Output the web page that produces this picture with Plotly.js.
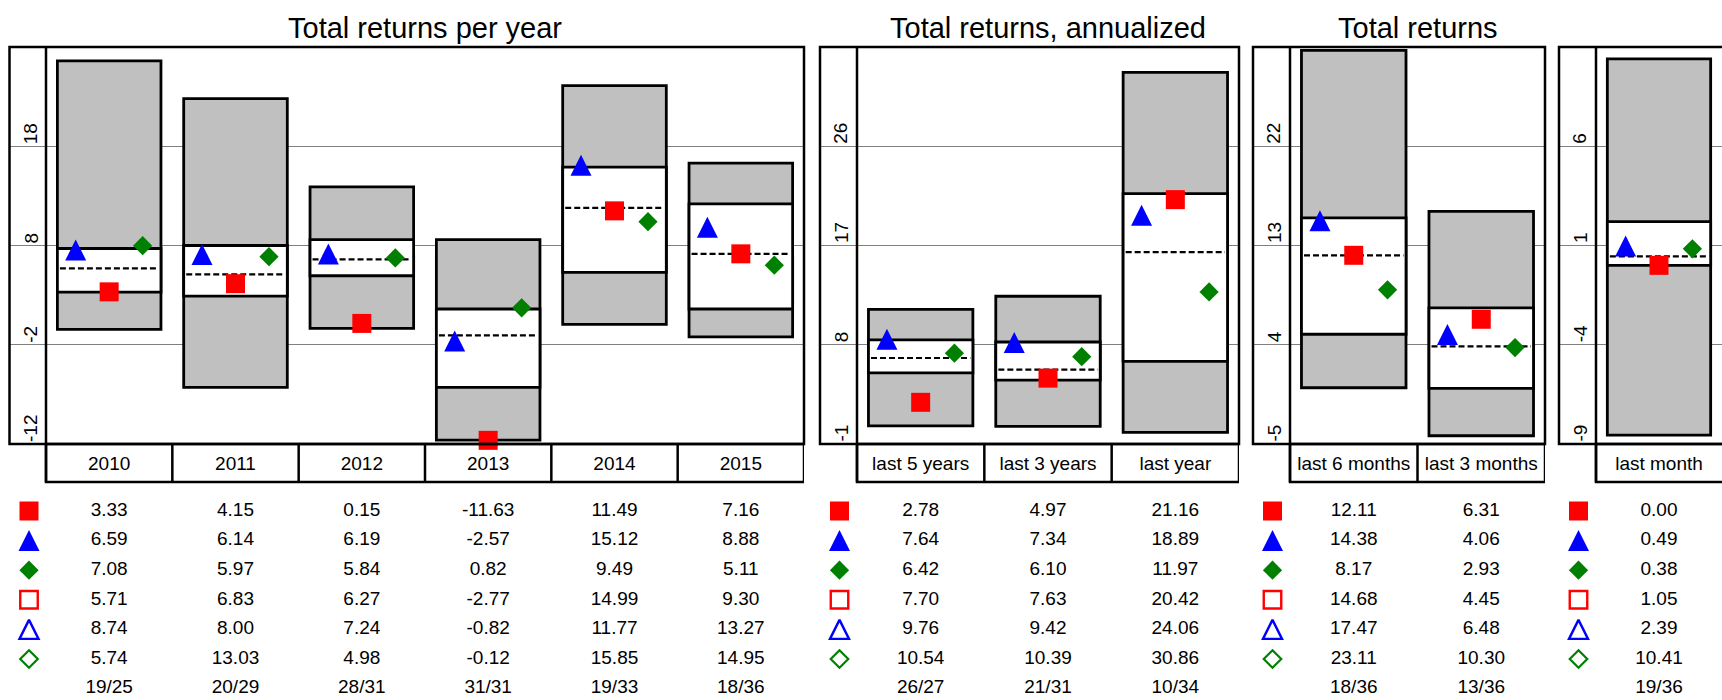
<!DOCTYPE html>
<html><head><meta charset="utf-8">
<script src="https://cdn.plot.ly/plotly-3.0.1.min.js"></script>
<style>html,body{margin:0;padding:0;background:#fff;} #chart{width:1722px;height:700px;}</style>
</head><body><div id="chart"></div>
<script>
// ---------------- DATA ----------------
const yearCats = ["2010","2011","2012","2013","2014","2015"];
const annCats  = ["last 5 years","last 3 years","last year"];
const totCats  = ["last 6 months","last 3 months"];
const monCats  = ["last month"];

// table rows (fund, blue, green, hollow square, hollow triangle, hollow diamond, rank)
const yearFund    = [3.33, 4.15, 0.15, -11.63, 11.49, 7.16];
const yearTri     = [6.59, 6.14, 6.19, -2.57, 15.12, 8.88];
const yearDia     = [7.08, 5.97, 5.84, 0.82, 9.49, 5.11];
const yearSqOpen  = [5.71, 6.83, 6.27, -2.77, 14.99, 9.30];
const yearTriOpen = [8.74, 8.00, 7.24, -0.82, 11.77, 13.27];
const yearDiaOpen = [5.74, 13.03, 4.98, -0.12, 15.85, 14.95];
const yearRank    = ["19/25","20/29","28/31","31/31","19/33","18/36"];

const annFund    = [2.78, 4.97, 21.16];
const annTri     = [7.64, 7.34, 18.89];
const annDia     = [6.42, 6.10, 11.97];
const annSqOpen  = [7.70, 7.63, 20.42];
const annTriOpen = [9.76, 9.42, 24.06];
const annDiaOpen = [10.54, 10.39, 30.86];
const annRank    = ["26/27","21/31","10/34"];

const totFund    = [12.11, 6.31];
const totTri     = [14.38, 4.06];
const totDia     = [8.17, 2.93];
const totSqOpen  = [14.68, 4.45];
const totTriOpen = [17.47, 6.48];
const totDiaOpen = [23.11, 10.30];
const totRank    = ["18/36","13/36"];

const monFund    = [0.00];
const monTri     = [0.49];
const monDia     = [0.38];
const monSqOpen  = [1.05];
const monTriOpen = [2.39];
const monDiaOpen = [10.41];
const monRank    = ["19/36"];

// peer-group boxes: outer range (gray), inner quartile band (white), median (dashed)
const yearHigh = [26.6, 22.8, 13.9, 8.6, 24.1, 16.3];
const yearQ3   = [7.7, 8.0, 8.6, 1.6, 15.9, 12.2];
const yearMed  = [5.7, 5.1, 6.6, -1.05, 11.8, 7.15];
const yearQ1   = [3.3, 2.9, 4.95, -6.3, 5.3, 1.6];
const yearLow  = [-0.45, -6.3, -0.35, -11.6, 0.05, -1.2];

const annHigh = [11.2, 12.4, 32.7];
const annQ3   = [8.45, 8.25, 21.7];
const annMed  = [6.8, 5.75, 16.4];
const annQ1   = [5.45, 4.8, 6.5];
const annLow  = [0.65, 0.6, 0.05];

const totHigh = [30.7, 16.1];
const totQ3   = [15.5, 7.35];
const totMed  = [12.1, 3.85];
const totQ1   = [4.95, 0.05];
const totLow  = [0.1, -4.25];

const monHigh = [10.4];
const monQ3   = [2.2];
const monMed  = [0.45];
const monQ1   = [0.0];
const monLow  = [-8.55];

// axis ranges and tick labels
const yearRange = [-12, 28]; const yearTicks = [-12, -2, 8, 18];
const annRange  = [-1, 35];  const annTicks  = [-1, 8, 17, 26];
const totRange  = [-5, 31];  const totTicks  = [-5, 4, 13, 22];
const monRange  = [-9, 11];  const monTicks  = [-9, -4, 1, 6];

const titles = ["Total returns per year", "Total returns, annualized", "Total returns", ""];

// ---------------- LAYOUT CONSTANTS ----------------
const W = 1722, H = 700;
const FONT = 'Liberation Sans, Arial, sans-serif';
const PLOT_TOP = 47, PLOT_BOT = 444, ROW_BOT = 482;
const ROW0 = 511, ROWSTEP = 29.6;
const BOXW = 0.82, MOFF = 0.265;
const FRAME_W = 2.5, BOX_LINE = 2.8;
const geo = [
  {fl: 9.5,  ax: 46,   r: 804},
  {fl: 820,  ax: 857,  r: 1239},
  {fl: 1253, ax: 1290, r: 1545},
  {fl: 1559, ax: 1596, r: 1722}
];

const panels = [
  {cats: yearCats, fund: yearFund, tri: yearTri, dia: yearDia, sqo: yearSqOpen, trio: yearTriOpen, diao: yearDiaOpen, rank: yearRank,
   high: yearHigh, q3: yearQ3, med: yearMed, q1: yearQ1, low: yearLow, range: yearRange, ticks: yearTicks},
  {cats: annCats, fund: annFund, tri: annTri, dia: annDia, sqo: annSqOpen, trio: annTriOpen, diao: annDiaOpen, rank: annRank,
   high: annHigh, q3: annQ3, med: annMed, q1: annQ1, low: annLow, range: annRange, ticks: annTicks},
  {cats: totCats, fund: totFund, tri: totTri, dia: totDia, sqo: totSqOpen, trio: totTriOpen, diao: totDiaOpen, rank: totRank,
   high: totHigh, q3: totQ3, med: totMed, q1: totQ1, low: totLow, range: totRange, ticks: totTicks},
  {cats: monCats, fund: monFund, tri: monTri, dia: monDia, sqo: monSqOpen, trio: monTriOpen, diao: monDiaOpen, rank: monRank,
   high: monHigh, q3: monQ3, med: monMed, q1: monQ1, low: monLow, range: monRange, ticks: monTicks}
];

const RED = '#ff0000', BLUE = '#0000ff', GREEN = '#008000';
const py = p => (H - p) / H;
const yd = [py(PLOT_BOT), py(PLOT_TOP)];
const td = [0, py(ROW_BOT)];
const tRange = [(H - ROW0) / ROWSTEP, (ROW_BOT - ROW0) / ROWSTEP];

const traces = [], shapes = [], annotations = [];
const layout = {
  width: W, height: H, margin: {l: 0, r: 0, t: 0, b: 0},
  paper_bgcolor: '#ffffff', plot_bgcolor: 'rgba(0,0,0,0)',
  showlegend: false, hovermode: false, barmode: 'overlay',
  font: {family: FONT, color: '#000', size: 19}
};

panels.forEach((p, k) => {
  const g = geo[k];
  const n = p.cats.length;
  const cw = (g.r - g.ax) / n;
  const xmin = -0.5 - (g.ax - g.fl) / cw;
  const xn = k === 0 ? 'x' : 'x' + (k + 1);
  const yn = k === 0 ? 'y' : 'y' + (k + 1);
  const tn = 'y' + (k + 5);
  const xk = k === 0 ? 'xaxis' : 'xaxis' + (k + 1);
  const yk = k === 0 ? 'yaxis' : 'yaxis' + (k + 1);
  const tk = 'yaxis' + (k + 5);
  const idx = p.cats.map((c, i) => i);
  const toX = px => (px - g.ax) / cw - 0.5;

  layout[xk] = {domain: [g.fl / W, g.r / W], range: [xmin, n - 0.5], anchor: yn,
    tickvals: idx, ticktext: p.cats, ticks: '', showgrid: false, zeroline: false, showline: false,
    tickfont: {family: FONT, size: 19, color: '#000'}, ticklabelstandoff: 6, fixedrange: true};
  layout[yk] = {domain: yd, range: p.range, anchor: xn, tickvals: p.ticks, showticklabels: false,
    ticks: '', showgrid: true, gridcolor: '#808080', gridwidth: 1, zeroline: false, showline: false, fixedrange: true};
  layout[tk] = {domain: td, range: tRange, anchor: xn, showticklabels: false, showgrid: false,
    zeroline: false, showline: false, ticks: '', fixedrange: true};

  // boxes
  traces.push({type: 'bar', x: idx, base: p.low, y: p.high.map((v, i) => v - p.low[i]), width: BOXW,
    marker: {color: '#c0c0c0', line: {color: '#000', width: BOX_LINE}}, xaxis: xn, yaxis: yn, hoverinfo: 'skip'});
  traces.push({type: 'bar', x: idx, base: p.q1, y: p.q3.map((v, i) => v - p.q1[i]), width: BOXW,
    marker: {color: '#ffffff', line: {color: '#000', width: BOX_LINE}}, xaxis: xn, yaxis: yn, hoverinfo: 'skip'});
  // medians
  const mx = [], my = [];
  p.med.forEach((v, i) => { mx.push(i - BOXW / 2 + 0.02, i + BOXW / 2 - 0.02, null); my.push(v, v, null); });
  traces.push({type: 'scatter', mode: 'lines', x: mx, y: my, line: {color: '#000', width: 2.2, dash: '6px,3px'},
    xaxis: xn, yaxis: yn, hoverinfo: 'skip', connectgaps: false});
  // markers
  traces.push({type: 'scatter', mode: 'markers', x: idx.map(i => i - MOFF), y: p.tri,
    marker: {symbol: 'arrow-down', angle: 180, standoff: 20, size: 21, color: BLUE, line: {width: 0}},
    xaxis: xn, yaxis: yn, cliponaxis: false, hoverinfo: 'skip'});
  traces.push({type: 'scatter', mode: 'markers', x: idx.map(i => i + MOFF), y: p.dia,
    marker: {symbol: 'diamond', angle: 180, standoff: 9, size: 14.8, color: GREEN, line: {width: 0}},
    xaxis: xn, yaxis: yn, cliponaxis: false, hoverinfo: 'skip'});
  traces.push({type: 'scatter', mode: 'markers', x: idx, y: p.fund,
    marker: {symbol: 'square', size: 19, color: RED, line: {width: 0}},
    xaxis: xn, yaxis: yn, cliponaxis: false, hoverinfo: 'skip'});

  // table
  const rows = [p.fund, p.tri, p.dia, p.sqo, p.trio, p.diao];
  rows.forEach((vals, r) => {
    traces.push({type: 'scatter', mode: 'text', x: idx, y: vals.map(() => r), text: vals.map(v => v.toFixed(2)),
      textfont: {family: FONT, size: 19, color: '#000'}, textposition: 'middle center',
      xaxis: xn, yaxis: tn, hoverinfo: 'skip', cliponaxis: false});
  });
  traces.push({type: 'scatter', mode: 'text', x: idx, y: p.rank.map(() => 6), text: p.rank,
    textfont: {family: FONT, size: 19, color: '#000'}, textposition: 'middle center',
    xaxis: xn, yaxis: tn, hoverinfo: 'skip', cliponaxis: false});
  const sx = toX(g.fl + 19.5);
  const symSpecs = [
    {symbol: 'square', size: 19, color: RED, line: {width: 0}},
    {symbol: 'arrow-down', angle: 180, standoff: 10.5, size: 21, color: BLUE, line: {width: 0}},
    {symbol: 'diamond', size: 14.8, color: GREEN, line: {width: 0}},
    {symbol: 'square-open', size: 17.5, color: RED, line: {width: 2.4, color: RED}},
    {symbol: 'arrow-down-open', angle: 180, standoff: 9.5, size: 19, color: BLUE, line: {width: 2.4, color: BLUE}},
    {symbol: 'diamond-open', size: 13.5, color: GREEN, line: {width: 2.2, color: GREEN}}
  ];
  symSpecs.forEach((m, r) => {
    traces.push({type: 'scatter', mode: 'markers', x: [sx], y: [r], marker: m,
      xaxis: xn, yaxis: tn, hoverinfo: 'skip', cliponaxis: false});
  });

  // frame, y-axis line, category row
  const frameRight = k === 3 ? 1.02 : g.r / W;
  shapes.push({type: 'rect', xref: 'paper', yref: 'paper', x0: g.fl / W, x1: frameRight, y0: yd[0], y1: yd[1],
    line: {color: '#000', width: FRAME_W}, fillcolor: 'rgba(0,0,0,0)', layer: 'above'});
  shapes.push({type: 'line', xref: xn, yref: 'paper', x0: -0.5, x1: -0.5, y0: py(ROW_BOT), y1: yd[1],
    line: {color: '#000', width: FRAME_W}, layer: 'above'});
  shapes.push({type: 'rect', xref: xn, yref: 'paper', x0: -0.5, x1: k === 3 ? n : n - 0.5, y0: py(ROW_BOT), y1: yd[0],
    line: {color: '#000', width: FRAME_W}, fillcolor: 'rgba(0,0,0,0)', layer: 'above'});
  for (let i = 0; i < n - 1; i++) {
    shapes.push({type: 'line', xref: xn, yref: 'paper', x0: i + 0.5, x1: i + 0.5, y0: py(ROW_BOT), y1: yd[0],
      line: {color: '#000', width: FRAME_W}, layer: 'above'});
  }

  // y tick labels (rotated, sitting just above each gridline)
  p.ticks.forEach(t => {
    annotations.push({xref: 'paper', yref: yn, x: (g.fl + 21) / W, y: t, text: String(t), textangle: -90,
      xanchor: 'center', yanchor: 'bottom', showarrow: false, font: {family: FONT, size: 19, color: '#000'}});
  });
  // title
  if (titles[k]) {
    annotations.push({xref: 'paper', yref: 'paper', x: (g.ax + g.r) / 2 / W, y: py(28.5), text: titles[k],
      xanchor: 'center', yanchor: 'middle', showarrow: false, font: {family: FONT, size: 29, color: '#000'}});
  }
});

layout.shapes = shapes;
layout.annotations = annotations;

Plotly.newPlot('chart', traces, layout, {displayModeBar: false, staticPlot: true});
</script>
</body></html>
